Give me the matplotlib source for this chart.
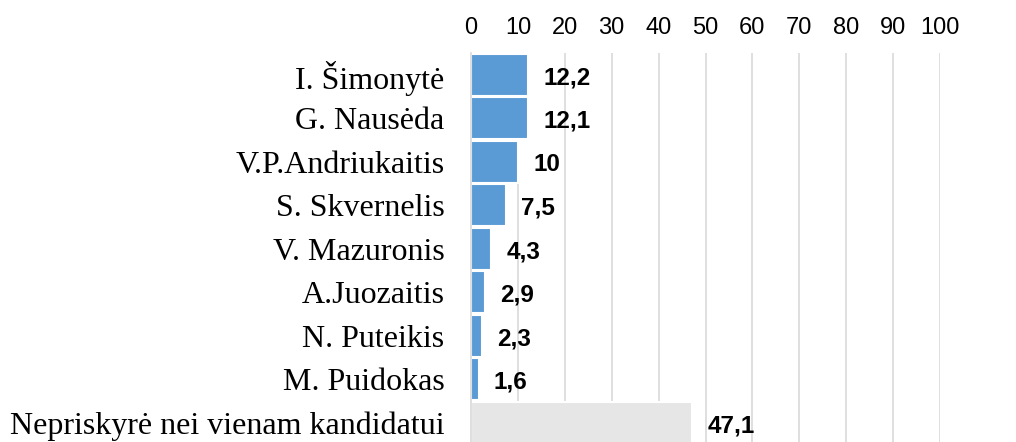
import matplotlib.pyplot as plt

candidates = ['I. Šimonytė', 'G. Nausėda', 'V.P.Andriukaitis', 'S. Skvernelis',
              'V. Mazuronis', 'A.Juozaitis', 'N. Puteikis', 'M. Puidokas',
              'Nepriskyrė nei vienam kandidatui']
shares = [12.2, 12.1, 10, 7.5, 4.3, 2.9, 2.3, 1.6, 47.1]
bar_colors = ['#5B9BD5'] * 8 + ['#E6E6E6']

fig = plt.figure(figsize=(10.16, 4.42), dpi=100)
ax = fig.add_axes([471 / 1016, 0.0, 469 / 1016, 389 / 442])

pos = list(range(len(candidates)))
ax.barh(pos, shares, height=0.97, color=bar_colors, edgecolor='white', linewidth=1.5, zorder=2)
ax.set_ylim(8.44, -0.5)
ax.set_xlim(0, 100)
ax.set_xticks(range(0, 101, 10))
ax.xaxis.tick_top()
ax.tick_params(axis='x', length=0, pad=10, labelsize=17)
ax.tick_params(axis='y', length=0, pad=19)
for lbl in ax.get_xticklabels():
    lbl.set_fontfamily('Liberation Sans')

ax.set_yticks(pos)
ax.set_yticklabels(candidates, fontfamily='Liberation Serif', fontsize=23)

ax.grid(axis='x', color='#D9D9D9', linewidth=1.2, zorder=0)
for s in ['top', 'right', 'bottom']:
    ax.spines[s].set_visible(False)
ax.spines['left'].set_color('#D9D9D9')
ax.spines['left'].set_linewidth(1.2)

for p, v in zip(pos, shares):
    txt = str(v).replace('.', ',')
    if txt.endswith(',0'):
        txt = txt[:-2]
    ax.annotate(txt, (v, p), xytext=(11, -2), textcoords='offset points',
                va='center', ha='left', fontsize=17.5, fontweight='bold',
                fontfamily='Liberation Sans')

fig.savefig('out.png', dpi=100)
